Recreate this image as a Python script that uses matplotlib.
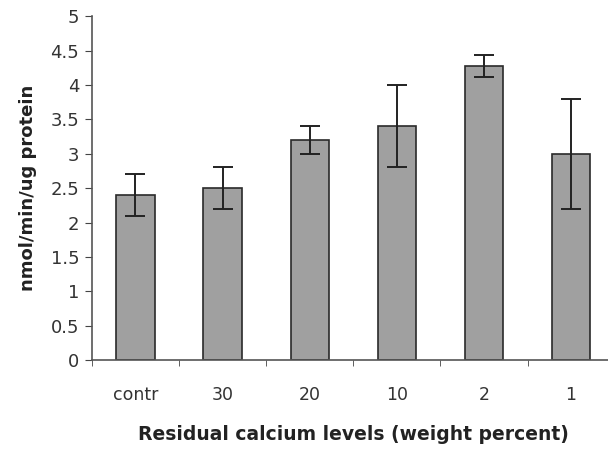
import matplotlib.pyplot as plt
import numpy as np

plt.rcParams['font.family'] = ['DejaVu Sans']

categories = ['contr', '30', '20', '10', '2', '1']
values = [2.4, 2.5, 3.2, 3.4, 4.28, 3.0]
errors = [0.3, 0.3, 0.2, 0.6, 0.16, 0.8]

fig = plt.figure(figsize=(6.08, 4.49), dpi=100)
ax = fig.add_axes([0.151, 0.198, 0.86, 0.766])

x = np.arange(len(categories))
ax.bar(x, values, width=0.44, color='#a0a0a0', edgecolor='#2a2a2a', linewidth=1.2,
       yerr=errors, error_kw=dict(ecolor='#222222', elinewidth=1.4, capsize=7, capthick=1.4))

ax.set_xlim(-0.5, len(categories) - 0.5)
ax.set_ylim(0, 5)
ax.set_yticks(np.arange(0, 5.01, 0.5))
ax.set_yticklabels(['0', '0.5', '1', '1.5', '2', '2.5', '3', '3.5', '4', '4.5', '5'])
ax.set_xticks(x)
ax.set_xticklabels(categories)
ax.set_xticks(np.arange(-0.5, len(categories), 1.0), minor=True)
ax.tick_params(axis='x', which='major', length=0, pad=19, labelsize=12.5, labelcolor='#333333')
ax.tick_params(axis='x', which='minor', length=4, direction='out', color='#444444')
ax.tick_params(axis='y', length=5, direction='out', labelsize=13, pad=4, color='#444444',
               labelcolor='#333333')

for s in ['top', 'right']:
    ax.spines[s].set_visible(False)
for s in ['left', 'bottom']:
    ax.spines[s].set_color('#555555')
    ax.spines[s].set_linewidth(1.2)

ax.set_ylabel('nmol/min/ug protein', fontsize=13, fontweight='bold', labelpad=10, color='#222222')
ax.set_xlabel('Residual calcium levels (weight percent)', fontsize=13.5, fontweight='bold',
              labelpad=15, color='#222222')

fig.savefig('out.png', dpi=100)
